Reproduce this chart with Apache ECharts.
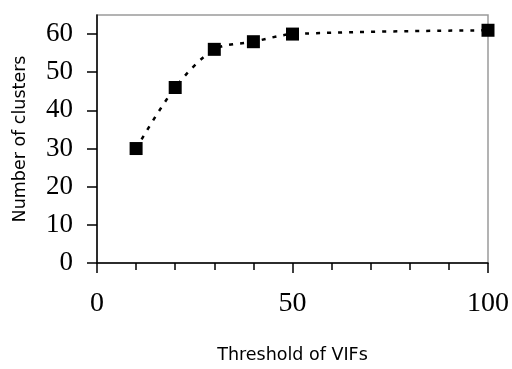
<!DOCTYPE html>
<html>
<head>
<meta charset="utf-8">
<script src="https://cdn.jsdelivr.net/npm/echarts@6/dist/echarts.min.js"></script>
<style>
  html, body { margin: 0; padding: 0; background: #fff; }
  #chart { width: 512px; height: 369px; }
</style>
</head>
<body>
<div id="chart"></div>
<script>
// values
const thresholds = [10, 20, 30, 40, 50, 100];
const clusters = [30, 46, 56, 58, 60, 61];
const yTicks = [0, 10, 20, 30, 40, 50, 60];
const xLabelTicks = [0, 50, 100];

const chart = echarts.init(document.getElementById("chart"), null, { renderer: "canvas" });

const serif = "'Liberation Serif', 'Times New Roman', Times, serif";
const sans = "'DejaVu Sans', sans-serif";

chart.setOption({
  animation: false,
  grid: {
    left: 97, right: 21, top: 15, bottom: 104,
    show: true,
    borderColor: "#9a9a9a",
    borderWidth: 1.5
  },
  xAxis: {
    type: "value",
    min: 0,
    max: 100,
    interval: 50,
    name: "Threshold of VIFs",
    nameLocation: "middle",
    nameGap: 83,
    nameTextStyle: { fontFamily: sans, fontSize: 17.5, color: "#000" },
    axisLine: { show: true, onZero: false, lineStyle: { color: "#000", width: 1.5 } },
    axisTick: { show: true, inside: false, length: 10, lineStyle: { color: "#000", width: 1.5 } },
    minorTick: { show: true, splitNumber: 5, length: 7, lineStyle: { color: "#000", width: 1.5 } },
    axisLabel: {
      customValues: xLabelTicks,
      margin: 27,
      fontFamily: serif,
      fontSize: 28,
      color: "#000"
    },
    splitLine: { show: false }
  },
  yAxis: {
    type: "value",
    min: 0,
    max: 65,
    interval: 10,
    name: "Number of clusters",
    nameLocation: "middle",
    nameGap: 68,
    nameTextStyle: { fontFamily: sans, fontSize: 17.5, color: "#000" },
    axisLine: { show: true, lineStyle: { color: "#000", width: 1.5 } },
    axisTick: { show: true, inside: false, length: 10, customValues: yTicks, lineStyle: { color: "#000", width: 1.5 } },
    axisLabel: {
      customValues: yTicks,
      margin: 24,
      fontFamily: serif,
      fontSize: 27,
      color: "#000"
    },
    splitLine: { show: false }
  },
  series: [
    {
      type: "line",
      data: thresholds.map((t, i) => [t, clusters[i]]),
      smooth: 0.3,
      symbol: "rect",
      symbolSize: 13,
      itemStyle: { color: "#000" },
      lineStyle: { color: "#000", width: 2.5, type: [4, 7] }
    }
  ]
});
</script>
</body>
</html>
